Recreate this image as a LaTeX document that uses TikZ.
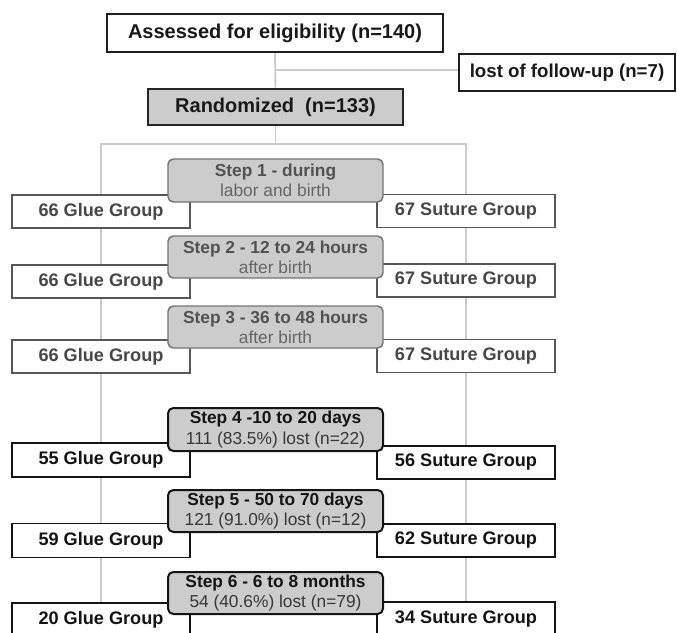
\documentclass[tikz,border=0pt]{standalone}
\usepackage{fontspec}
\setmainfont{Liberation Sans}
\usetikzlibrary{backgrounds,calc}
\begin{document}
\begin{tikzpicture}[x=0.75pt,y=-0.75pt,
  sz/.style 2 args={minimum width=#1*0.75pt, minimum height=#2*0.75pt},
  base/.style={rectangle, inner sep=0pt, align=center, font=\bfseries\fontsize{15}{18}\selectfont, text=black!90},
  topbox/.style={base, draw=black!88, line width=1.5pt, fill=white},
  randbox/.style={base, draw=black!85, line width=1.9pt, fill=black!20},
  grpA/.style={base, draw=black!66, line width=1.4pt, fill=white, text=black!72, font=\bfseries\fontsize{13.6}{16}\selectfont},
  grpB/.style={grpA, draw=black!92, text=black!92},
  stepA/.style={base, rounded corners=4pt, draw=black!55, line width=1.1pt, fill=black!20, text=black!68, font=\fontsize{13}{15.2}\selectfont},
  stepB/.style={stepA, draw=black!92, line width=1.5pt, text=black!92},
  conn/.style={draw=black!20, line width=1.4pt}
]
\useasboundingbox (0,0) rectangle (677,632);
\clip (0,0) rectangle (677,632);

\node[topbox, sz={336}{38}] (top) at (275,33) {Assessed for eligibility (n=140)};
\node[topbox, sz={216}{37}, font=\bfseries\fontsize{14}{16}\selectfont] (lost) at (567,72.5) {lost of follow-up (n=7)};
\node[randbox, sz={255}{36}] (rand) at (275.5,107) {Randomized~~(n=133)};

\node[grpA, sz={178}{33}] (L1) at (101,211.5) {66 Glue Group};
\node[grpA, sz={178}{33}] (R1) at (466,211) {67 Suture Group};
\node[grpA, sz={178}{33}] (L2) at (101,281.5) {66 Glue Group};
\node[grpA, sz={178}{33}] (R2) at (466,280.5) {67 Suture Group};
\node[grpA, sz={178}{33}] (L3) at (101,356.5) {66 Glue Group};
\node[grpA, sz={178}{33}] (R3) at (466,356) {67 Suture Group};
\node[grpB, sz={178}{34}] (L4) at (101,460) {55 Glue Group};
\node[grpB, sz={178}{33}] (R4) at (466,462.5) {56 Suture Group};
\node[grpB, sz={178}{34}] (L5) at (101,540.5) {59 Glue Group};
\node[grpB, sz={178}{33}] (R5) at (466,540.5) {62 Suture Group};
\node[grpB, sz={178}{34}] (L6) at (101,620) {20 Glue Group};
\node[grpB, sz={178}{34}] (R6) at (466,619) {34 Suture Group};

\node[stepA, sz={215}{43}] (S1) at (275.5,180.5) {\textbf{Step 1 - during}\\{\color{black!60}labor and birth}};
\node[stepA, sz={215}{42}] (S2) at (275.5,257) {\textbf{Step 2 - 12 to 24 hours}\\{\color{black!60}after birth}};
\node[stepA, sz={215}{42}] (S3) at (275.5,327) {\textbf{Step 3 - 36 to 48 hours}\\{\color{black!60}after birth}};
\node[stepB, sz={215}{43}] (S4) at (275.5,429.5) {\textbf{Step 4 -10 to 20 days}\\{\color{black!78}111 (83.5\%) lost (n=22)}};
\node[stepB, sz={215}{42}] (S5) at (275.5,511) {\textbf{Step 5 - 50 to 70 days}\\{\color{black!78}121 (91.0\%) lost (n=12)}};
\node[stepB, sz={215}{42}] (S6) at (275.5,593) {\textbf{Step 6 - 6 to 8 months}\\{\color{black!78}54 (40.6\%) lost (n=79)}};

\begin{scope}[on background layer]
  \coordinate (j1) at ($(top.south)!0.5!(rand.north)$);
  \coordinate (j2) at (275.5,144);
  \draw[conn] (top.south) -- (rand.north);
  \draw[conn] (j1) -- (lost.west |- j1);
  \draw[conn] (rand.south) -- (j2);
  \draw[conn] (L1.north) |- (j2) -| (R1.north);
  \draw[conn] (L1.south) -- (L2.north);
  \draw[conn] (L2.south) -- (L3.north);
  \draw[conn] (L3.south) -- (L4.north);
  \draw[conn] (L4.south) -- (L5.north);
  \draw[conn] (L5.south) -- (L6.north);
  \draw[conn] (R1.south) -- (R2.north);
  \draw[conn] (R2.south) -- (R3.north);
  \draw[conn] (R3.south) -- (R4.north);
  \draw[conn] (R4.south) -- (R5.north);
  \draw[conn] (R5.south) -- (R6.north);
\end{scope}
\end{tikzpicture}
\end{document}
